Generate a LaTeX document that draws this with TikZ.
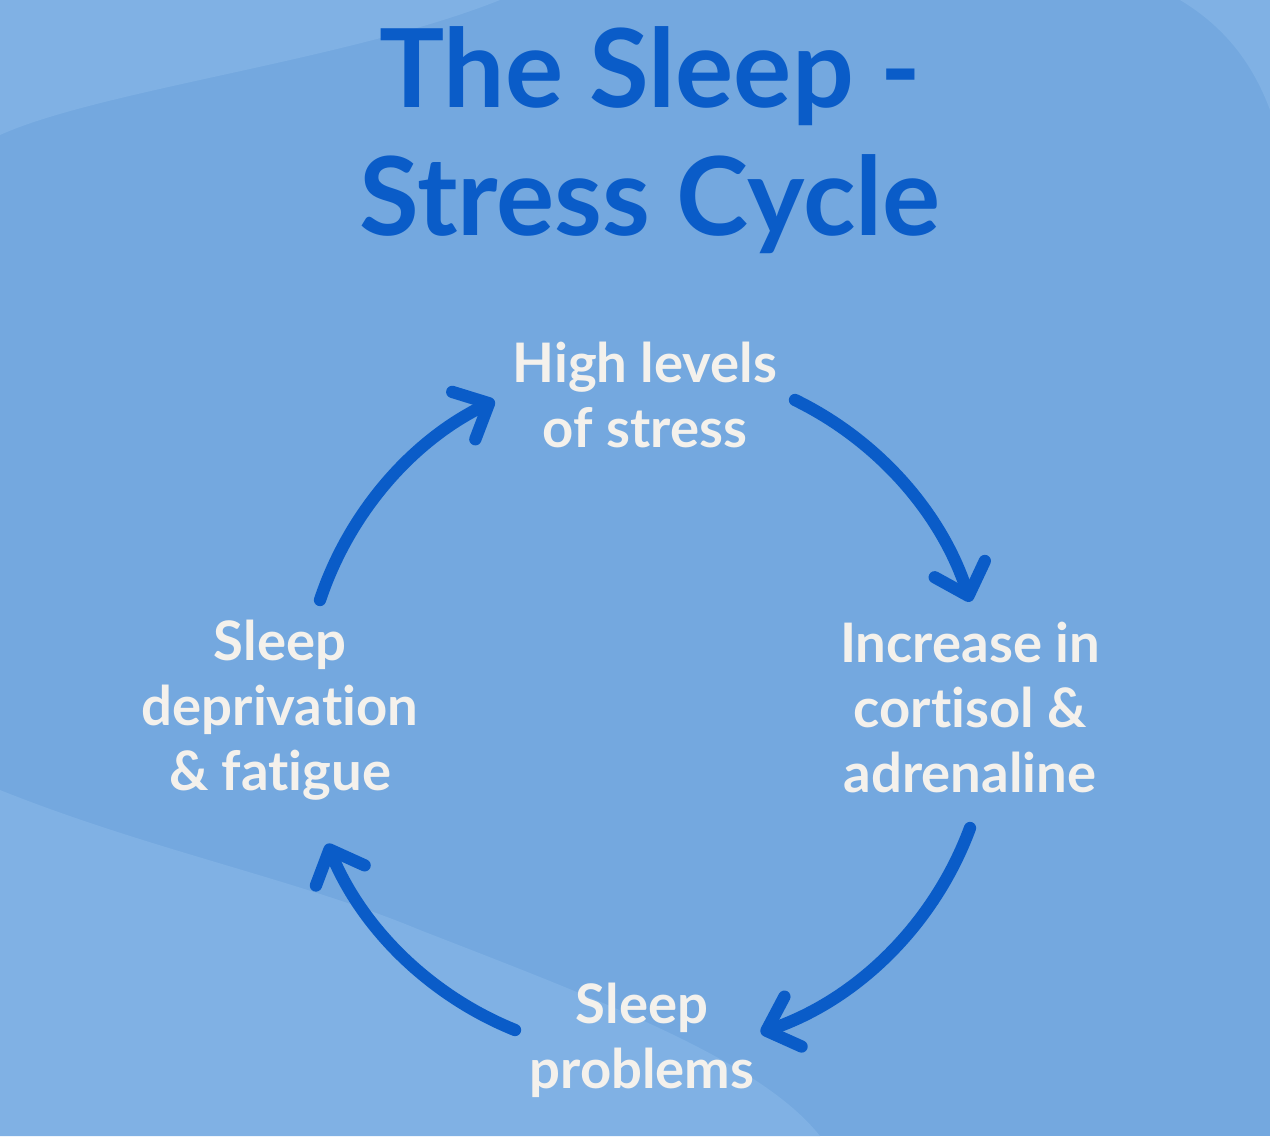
\documentclass[tikz,border=0pt]{standalone}
\usepackage{fontspec}
\setmainfont{Lato}[Ligatures={NoCommon}]
\usetikzlibrary{arrows.meta,calc}
\definecolor{bg}{HTML}{74A8DF}
\definecolor{bgl}{HTML}{80B1E4}
\definecolor{dblue}{HTML}{0A5CC8}
\definecolor{wtxt}{HTML}{F4F1EC}
\tikzset{
  cyc/.style={draw=dblue,line width=7pt,line cap=round,-{Straight Barb[length=16pt,width=30pt,line width=7pt,round]}},
  lbl/.style={text=wtxt,font=\fontsize{31}{37}\selectfont\bfseries,align=center},
  ttl/.style={text=dblue,font=\fontsize{62}{73}\selectfont\bfseries,align=center}
}
\begin{document}
\begin{tikzpicture}[x=0.02cm,y=-0.02cm]
\fill[bg] (0,0) rectangle (1270,1136);
\fill[bgl] (0,0) -- (500,0) .. controls (350,60) and (100,90) .. (0,135) -- cycle;
\fill[bgl] (0,790) .. controls (150,850) and (300,880) .. (420,930) .. controls (600,1000) and (760,1060) .. (820,1136) -- (0,1136) -- cycle;
\fill[bgl] (1180,0) .. controls (1230,30) and (1255,70) .. (1270,110) -- (1270,0) -- cycle;
\useasboundingbox (0,0) rectangle (1270,1136);
\node[ttl] (title) at (650,140) {The Sleep -\\Stress Cycle};
\node[lbl] (n1) at (645,395) {High levels\\of stress};
\node[lbl] (n2) at (970,708) {Increase in\\cortisol \&\\adrenaline};
\node[lbl] (n3) at (642,1040) {Sleep\\problems};
\node[lbl] (n4) at (280,710) {Sleep\\deprivation\\\& fatigue};
\coordinate (c) at (645,708);
\def\r{342}
\coordinate (a1) at ($(c)+(-325,-108)$);
\coordinate (a2) at ($(c)+(150,-308)$);
\coordinate (a3) at ($(c)+(325,120)$);
\coordinate (a4) at ($(c)+(-130,322)$);
\draw[cyc] (a1) arc[start angle=-161.6,end angle=-116,radius=\r];
\draw[cyc] (a2) arc[start angle=-64,end angle=-18,radius=\r];
\draw[cyc] (a3) arc[start angle=20.3,end angle=71,radius=\r];
\draw[cyc] (a4) arc[start angle=112,end angle=157.5,radius=\r];
\end{tikzpicture}
\end{document}
